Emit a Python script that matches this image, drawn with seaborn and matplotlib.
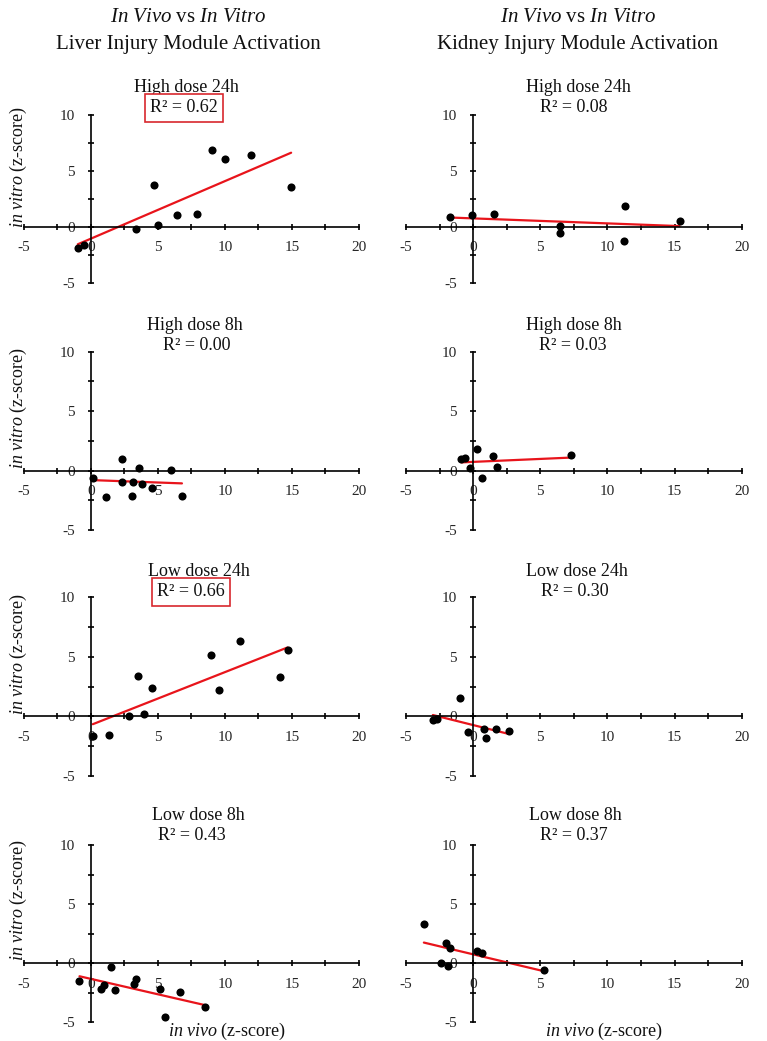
import numpy as np
import matplotlib
matplotlib.use("Agg")
import matplotlib.pyplot as plt
from matplotlib.ticker import MultipleLocator
import seaborn as sns

# ---------------- data ----------------
panel_titles = ["High dose 24h", "High dose 8h", "Low dose 24h", "Low dose 8h"]
liver_r2 = ["R\u00b2 = 0.62", "R\u00b2 = 0.00", "R\u00b2 = 0.66", "R\u00b2 = 0.43"]
kidney_r2 = ["R\u00b2 = 0.08", "R\u00b2 = 0.03", "R\u00b2 = 0.30", "R\u00b2 = 0.37"]
liver_boxed = [True, False, True, False]

liver_hi24_x = [-0.97, -0.5, 3.4, 4.71, 5.04, 6.43, 7.92, 9.06, 10.02, 11.94, 14.94]
liver_hi24_y = [-1.89, -1.68, -0.21, 3.69, 0.15, 1.05, 1.11, 6.9, 6.1, 6.46, 3.57]

liver_hi8_x = [0.2, 1.14, 2.31, 2.31, 3.13, 3.1, 3.62, 3.8, 4.54, 5.98, 6.8]
liver_hi8_y = [-0.64, -2.24, 0.98, -0.95, -0.95, -2.13, 0.22, -1.09, -1.43, 0.03, -2.1]

liver_lo24_x = [0.15, 1.34, 2.88, 3.55, 4.0, 4.57, 8.96, 9.55, 11.12, 14.12, 14.67]
liver_lo24_y = [-1.65, -1.57, 0.03, 3.38, 0.2, 2.35, 5.17, 2.18, 6.37, 3.27, 5.59]

liver_lo8_x = [-0.84, 0.77, 1.02, 1.49, 1.84, 3.2, 3.35, 5.16, 5.53, 6.67, 8.51]
liver_lo8_y = [-1.49, -2.17, -1.89, -0.37, -2.31, -1.8, -1.32, -2.23, -4.6, -2.42, -3.77]

kidney_hi24_x = [-1.69, -0.07, 1.59, 6.47, 6.47, 11.3, 11.23, 15.37]
kidney_hi24_y = [0.89, 1.04, 1.1, 0.06, -0.53, 1.87, -1.25, 0.48]

kidney_hi8_x = [-0.87, -0.57, -0.22, 0.27, 0.69, 1.51, 1.78, 7.31]
kidney_hi8_y = [1.01, 1.07, 0.23, 1.83, -0.62, 1.21, 0.34, 1.27]

kidney_lo24_x = [-3.0, -2.68, -0.99, -0.4, 0.82, 0.97, 1.69, 2.65]
kidney_lo24_y = [-0.28, -0.2, 1.54, -1.34, -1.09, -1.84, -1.06, -1.26]

kidney_lo8_x = [-3.67, -2.38, -2.01, -1.88, -1.73, 0.32, 0.69, 5.28]
kidney_lo8_y = [3.32, 0.0, 1.69, -0.23, 1.3, 1.01, 0.87, -0.62]

liver_x = [liver_hi24_x, liver_hi8_x, liver_lo24_x, liver_lo8_x]
liver_y = [liver_hi24_y, liver_hi8_y, liver_lo24_y, liver_lo8_y]
kidney_x = [kidney_hi24_x, kidney_hi8_x, kidney_lo24_x, kidney_lo8_x]
kidney_y = [kidney_hi24_y, kidney_hi8_y, kidney_lo24_y, kidney_lo8_y]

# ---------------- style ----------------
sns.set_theme(style="white")
plt.rcParams["font.family"] = ["Liberation Serif", "DejaVu Serif"]
plt.rcParams["mathtext.fontset"] = "custom"
plt.rcParams["mathtext.rm"] = "Liberation Serif"
plt.rcParams["mathtext.it"] = "Liberation Serif:italic"
plt.rcParams["axes.unicode_minus"] = False

W, H = 767, 1041
fig = plt.figure(figsize=(W / 100, H / 100), dpi=100)
fig.patch.set_facecolor("white")

# axes boxes in pixels
col_px = [(23.7, 359.0), (406.0, 741.7)]
row_px = [(115.0, 282.5), (351.7, 530.0), (597.3, 776.0), (845.0, 1022.0)]
title_y_px = [87, 325, 572, 815]
r2_y_px = [108, 345, 592, 835]
title_x_px = [[186, 195, 199, 198], [578, 574, 577, 575]]
r2_x_px = [[184, 197, 191, 192], [574, 573, 575, 574]]
ylab_y_px = [167, 408, 654, 900]


def style_axes(ax):
    ax.set_xlim(-5, 20)
    ax.set_ylim(-5, 10)
    for s in ["top", "right"]:
        ax.spines[s].set_visible(False)
    ax.spines["left"].set_position(("data", 0))
    ax.spines["bottom"].set_position(("data", 0))
    for s in ["left", "bottom"]:
        ax.spines[s].set_color("black")
        ax.spines[s].set_linewidth(1.2)
    ax.xaxis.set_major_locator(MultipleLocator(5))
    ax.xaxis.set_minor_locator(MultipleLocator(2.5))
    ax.yaxis.set_major_locator(MultipleLocator(5))
    ax.yaxis.set_minor_locator(MultipleLocator(2.5))
    ax.tick_params(which="both", direction="inout", color="black", width=1.2,
                   bottom=True, left=True, length=5)
    ax.tick_params(which="major", labelsize=11, labelcolor="#262626")
    ax.tick_params(axis="x", which="major", pad=8)
    ax.tick_params(axis="y", which="major", pad=9)
    ax.set_xlabel("")
    ax.set_ylabel("")
    ax.grid(False)
    ax.set_facecolor("none")


for c, (xs_all, ys_all, r2s) in enumerate([(liver_x, liver_y, liver_r2),
                                           (kidney_x, kidney_y, kidney_r2)]):
    l, r = col_px[c]
    for i in range(4):
        t, b = row_px[i]
        ax = fig.add_axes([l / W, 1 - b / H, (r - l) / W, (b - t) / H])
        sns.regplot(x=np.array(xs_all[i]), y=np.array(ys_all[i]), ax=ax, ci=None,
                    truncate=True,
                    scatter_kws=dict(color="black", s=34, linewidths=0,
                                     alpha=1, zorder=3),
                    line_kws=dict(color="#e8141b", lw=1.6, zorder=2))
        style_axes(ax)
        fig.text(title_x_px[c][i] / W, 1 - title_y_px[i] / H, panel_titles[i],
                 ha="center", va="center", fontsize=13, color="#111111")
        kw = {}
        if c == 0 and liver_boxed[i]:
            kw["bbox"] = dict(boxstyle="square,pad=0.28", fc="white",
                              ec="#d8282e", lw=1.2)
        fig.text(r2_x_px[c][i] / W, 1 - r2_y_px[i] / H, r2s[i], ha="center",
                 va="center", fontsize=13, color="#111111", **kw)
        if c == 0:
            fig.text(18 / W, 1 - ylab_y_px[i] / H,
                     r"$\mathit{in\ vitro}$ (z-score)", rotation=90,
                     ha="center", va="center", fontsize=13, color="#111111")

# column headers
for cx, name in [(188, "Liver Injury Module Activation"),
                 (578, "Kidney Injury Module Activation")]:
    fig.text(cx / W, 1 - 18 / H, r"$\mathit{In\ Vivo}$ vs $\mathit{In\ Vitro}$",
             ha="center", va="center", fontsize=15, color="#111111")
    fig.text(cx / W, 1 - 45 / H, name, ha="center", va="center",
             fontsize=15, color="#111111")

# x labels
for cx in [227, 604]:
    fig.text(cx / W, 1 - 1031 / H, r"$\mathit{in\ vivo}$ (z-score)",
             ha="center", va="center", fontsize=13, color="#111111")

fig.savefig("out.png", dpi=100, facecolor="white")
